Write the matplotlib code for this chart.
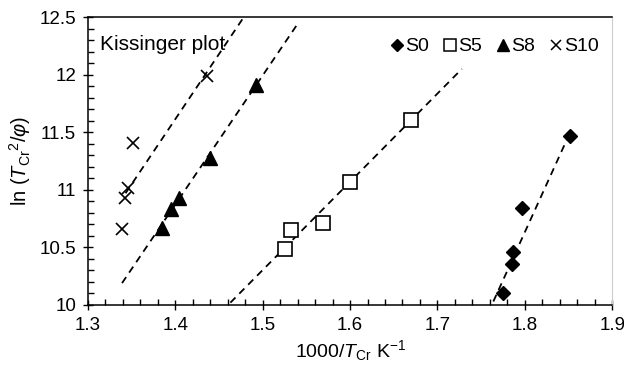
import numpy as np
import matplotlib
matplotlib.use("Agg")
import matplotlib.pyplot as plt
from matplotlib.ticker import MultipleLocator
from matplotlib.lines import Line2D

plt.rcParams['font.family'] = ['Liberation Sans', 'DejaVu Sans']
plt.rcParams['mathtext.fontset'] = 'custom'
plt.rcParams['mathtext.rm'] = 'Liberation Sans'
plt.rcParams['mathtext.it'] = 'Liberation Sans:italic'

########## data ##########
# S0 (diamonds)
s0_x = [1.775, 1.785, 1.786, 1.797, 1.852]
s0_y = [10.10, 10.36, 10.46, 10.84, 11.47]
s0_fit = [1.764, 1.852]
# S5 (open squares)
s5_x = [1.526, 1.532, 1.569, 1.600, 1.670]
s5_y = [10.49, 10.65, 10.71, 11.07, 11.61]
s5_fit = [1.463, 1.728]
# S8 (triangles)
s8_x = [1.385, 1.395, 1.404, 1.440, 1.492]
s8_y = [10.67, 10.83, 10.93, 11.28, 11.91]
s8_fit = [1.339, 1.540]
# S10 (crosses)
s10_x = [1.339, 1.342, 1.346, 1.352, 1.436]
s10_y = [10.66, 10.93, 11.02, 11.41, 11.99]
s10_fit = [1.343, 1.478]

# fitted lines (slope, intercept)
s0_line = (16.7, 10.03 - 16.7 * 1.764)
s5_line = (7.66, 10.02 - 7.66 * 1.463)
s8_line = (11.2, 10.19 - 11.2 * 1.339)
s10_line = (11.3, 10.97 - 11.3 * 1.343)
########## end data ##########

fig = plt.figure(figsize=(6.24, 3.71), dpi=100)
ax = fig.add_axes([0.141, 0.178, 0.840, 0.776])

dash = dict(color='black', lw=1.3, ls=(0, (4, 3)))
for rng, (m, b) in [(s0_fit, s0_line), (s5_fit, s5_line),
                    (s8_fit, s8_line), (s10_fit, s10_line)]:
    xx = np.array(rng)
    ax.plot(xx, m * xx + b, **dash)

ax.plot(s0_x, s0_y, 'D', color='black', ms=7.5, ls='none')
ax.plot(s5_x, s5_y, 's', mfc='white', mec='black', mew=1.2, ms=10, ls='none')
ax.plot(s8_x, s8_y, '^', color='black', ms=10, ls='none')
ax.plot(s10_x, s10_y, 'x', color='black', mew=1.2, ms=9, ls='none')

ax.set_xlim(1.3, 1.9)
ax.set_ylim(10, 12.5)
ax.xaxis.set_major_locator(MultipleLocator(0.1))
ax.xaxis.set_minor_locator(MultipleLocator(0.02))
ax.yaxis.set_major_locator(MultipleLocator(0.5))
ax.yaxis.set_minor_locator(MultipleLocator(0.1))
ax.xaxis.set_major_formatter(plt.FuncFormatter(lambda v, p: '%.1f' % v))
ax.yaxis.set_major_formatter(plt.FuncFormatter(lambda v, p: '%g' % v))

ax.tick_params(which='major', direction='inout', length=7, width=1,
               labelsize=13.5, top=False, right=False, pad=5)
ax.tick_params(which='minor', direction='in', length=4, width=1,
               top=False, right=False)
ax.spines['right'].set_color('#cccccc')
for s in ['left', 'bottom', 'top']:
    ax.spines[s].set_linewidth(1.1)

ax.set_xlabel(r'1000/$T_{\mathrm{Cr}}$ K$^{-1}$', fontsize=14, labelpad=3)
ax.set_ylabel(r'ln ($T_{\mathrm{Cr}}$$^{\mathrm{2}}$/$\varphi$)', fontsize=14.5, labelpad=5)

ax.text(0.022, 0.905, 'Kissinger plot', transform=ax.transAxes,
        fontsize=15, va='center', ha='left')

handles = [
    Line2D([], [], marker='D', color='black', ls='none', ms=6),
    Line2D([], [], marker='s', mfc='white', mec='black', mew=1.1, ls='none', ms=8),
    Line2D([], [], marker='^', color='black', ls='none', ms=8),
    Line2D([], [], marker='x', color='black', mew=1.1, ls='none', ms=7),
]
ax.legend(handles, ['S0', 'S5', 'S8', 'S10'], ncol=4, loc='upper right',
          bbox_to_anchor=(1.0, 0.975), frameon=False, fontsize=14,
          handlelength=0.6, handletextpad=0.1, columnspacing=0.8,
          borderaxespad=0.3)

fig.savefig('out.png', dpi=100)
